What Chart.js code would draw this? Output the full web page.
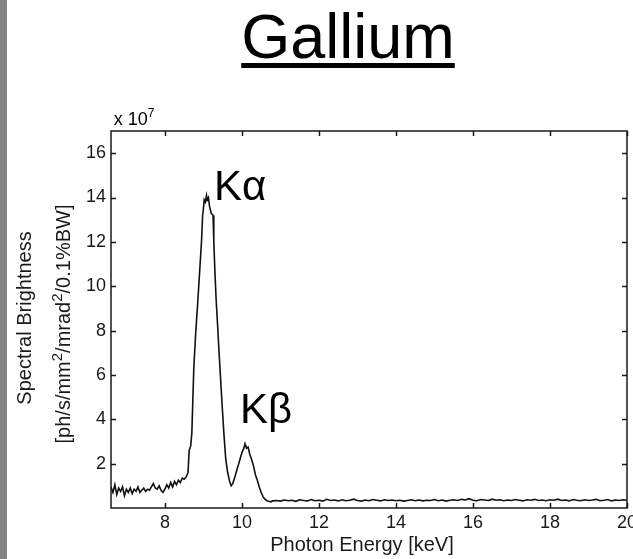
<!DOCTYPE html>
<html lang="en">
<head>
<meta charset="UTF-8">
<title>Gallium</title>
<style>
    body {
        margin: 0;
        padding: 0;
        background: #fff;
        overflow: hidden;
    }
    .edge {
        position: absolute;
        left: 0;
        top: 0;
        width: 7px;
        height: 559px;
        background: #858585;
    }
    .wrap {
        position: absolute;
        left: 0;
        top: 0;
        width: 680px;
        height: 559px;
    }
</style>
</head>
<body>
<div class="edge"></div>
<div class="wrap"><canvas id="spectrum" width="680" height="559"></canvas></div>

<script src="https://cdn.jsdelivr.net/npm/chart.js"></script>
<script>
    // photon energy [keV] and spectral brightness [x 10^7]
    const energyLow = [6.60, 6.65, 6.70, 6.75, 6.80, 6.85, 6.90, 6.95, 7.00, 7.05,
        7.10, 7.15, 7.20, 7.25, 7.30, 7.35, 7.40, 7.45, 7.50, 7.55,
        7.60, 7.65, 7.70, 7.75, 7.80, 7.85, 7.90, 7.95, 8.00, 8.05,
        8.10, 8.15, 8.20, 8.25, 8.30, 8.35, 8.40, 8.45, 8.50];
    const brightLow = [0.95, 0.70, 1.05, 0.60, 0.90, 0.75, 0.95, 0.55, 0.85, 0.70,
        0.90, 0.65, 0.85, 0.75, 0.95, 0.70, 0.80, 0.90, 0.75, 0.85,
        0.80, 0.95, 1.10, 0.90, 0.85, 1.00, 0.80, 0.70, 0.85, 1.05,
        0.90, 1.15, 0.95, 1.20, 1.05, 1.25, 1.15, 1.35, 1.30];

    const energyPeak = [8.55, 8.60, 8.63, 8.67, 8.70, 8.75, 8.80, 8.85, 8.90, 8.95,
        8.98, 9.00, 9.02, 9.05, 9.08, 9.10, 9.13, 9.16, 9.20, 9.25,
        9.27, 9.30, 9.33, 9.37, 9.40, 9.43, 9.48, 9.53, 9.58, 9.63,
        9.68, 9.72, 9.76, 9.80, 9.85, 9.90, 9.95, 10.00, 10.05, 10.08,
        10.12, 10.16, 10.20, 10.25, 10.30, 10.35, 10.40, 10.45, 10.50, 10.55,
        10.60, 10.65, 10.70, 10.75, 10.80];
    const brightPeak = [1.40, 1.60, 2.60, 2.80, 3.40, 6.30, 7.90, 9.20, 10.6, 12.0,
        13.2, 13.5, 13.9, 13.8, 14.1, 13.9, 14.0, 13.6, 13.3, 13.2,
        12.0, 10.6, 9.4, 8.2, 7.2, 6.3, 4.8, 3.4, 2.2, 1.6,
        1.2, 1.0, 1.1, 1.3, 1.6, 1.9, 2.2, 2.5, 2.7, 2.9,
        2.7, 2.75, 2.45, 2.2, 1.9, 1.5, 1.25, 0.95, 0.70, 0.50,
        0.40, 0.33, 0.30, 0.28, 0.32];

    const energyTail = [10.9, 11.0, 11.1, 11.2, 11.3, 11.4, 11.5, 11.6, 11.7, 11.8,
        11.9, 12.0, 12.1, 12.2, 12.3, 12.4, 12.5, 12.6, 12.7, 12.8,
        12.9, 13.0, 13.1, 13.2, 13.3, 13.4, 13.5, 13.6, 13.7, 13.8,
        13.9, 14.0, 14.1, 14.2, 14.3, 14.4, 14.5, 14.6, 14.7, 14.8,
        14.9, 15.0, 15.1, 15.2, 15.3, 15.4, 15.5, 15.6, 15.7, 15.8,
        15.9, 16.0, 16.1, 16.2, 16.3, 16.4, 16.5, 16.6, 16.7, 16.8,
        16.9, 17.0, 17.1, 17.2, 17.3, 17.4, 17.5, 17.6, 17.7, 17.8,
        17.9, 18.0, 18.1, 18.2, 18.3, 18.4, 18.5, 18.6, 18.7, 18.8,
        18.9, 19.0, 19.1, 19.2, 19.3, 19.4, 19.5, 19.6, 19.7, 19.8,
        19.9, 20.0];
    const brightTail = [0.34, 0.31, 0.36, 0.33, 0.35, 0.30, 0.37, 0.34, 0.32, 0.38,
        0.33, 0.35, 0.31, 0.39, 0.34, 0.36, 0.32, 0.37, 0.33, 0.35,
        0.40, 0.34, 0.31, 0.36, 0.33, 0.38, 0.35, 0.32, 0.37, 0.34,
        0.36, 0.33, 0.35, 0.31, 0.34, 0.37, 0.33, 0.36, 0.32, 0.35,
        0.34, 0.38, 0.33, 0.36, 0.31, 0.35, 0.37, 0.34, 0.39, 0.36,
        0.42, 0.35, 0.33, 0.38, 0.36, 0.34, 0.40, 0.35, 0.37, 0.33,
        0.36, 0.34, 0.38, 0.35, 0.32, 0.37, 0.35, 0.39, 0.34, 0.36,
        0.33, 0.37, 0.35, 0.40, 0.34, 0.36, 0.32, 0.38, 0.35, 0.33,
        0.37, 0.34, 0.36, 0.39, 0.33, 0.35, 0.38, 0.32, 0.36, 0.34,
        0.37, 0.35];

    const xTicks = [8, 10, 12, 14, 16, 18, 20];
    const yTicks = [2, 4, 6, 8, 10, 12, 14, 16];

    const energy = energyLow.concat(energyPeak, energyTail);
    const bright = brightLow.concat(brightPeak, brightTail);
    const points = energy.map((e, i) => ({ x: e, y: bright[i] }));

    const FONT = '"Liberation Sans", Arial, sans-serif';

    // draws a run of text pieces, some raised as superscripts
    function drawPieces(ctx, pieces, size, supSize, centerX, baseY) {
        let total = 0;
        pieces.forEach(p => {
            ctx.font = (p.sup ? supSize : size) + 'px ' + FONT;
            p.w = ctx.measureText(p.t).width;
            total += p.w;
        });
        let x = centerX - total / 2;
        ctx.textAlign = 'left';
        pieces.forEach(p => {
            ctx.font = (p.sup ? supSize : size) + 'px ' + FONT;
            ctx.fillText(p.t, x, p.sup ? baseY - size * 0.42 : baseY);
            x += p.w;
        });
    }

    // box, inward ticks and all the labels
    const frame = {
        id: 'frame',
        afterDraw(chart) {
            const { ctx, chartArea: a, scales: { x, y } } = chart;
            ctx.save();
            ctx.strokeStyle = '#1a1a1a';
            ctx.lineWidth = 1.5;
            ctx.strokeRect(a.left, a.top, a.right - a.left, a.bottom - a.top);
            ctx.beginPath();
            xTicks.forEach(v => {
                const px = Math.round(x.getPixelForValue(v)) + 0.5;
                ctx.moveTo(px, a.bottom); ctx.lineTo(px, a.bottom - 5);
                ctx.moveTo(px, a.top); ctx.lineTo(px, a.top + 5);
            });
            yTicks.forEach(v => {
                const py = Math.round(y.getPixelForValue(v)) + 0.5;
                ctx.moveTo(a.left, py); ctx.lineTo(a.left + 5, py);
                ctx.moveTo(a.right, py); ctx.lineTo(a.right - 5, py);
            });
            ctx.stroke();

            ctx.fillStyle = '#000';
            ctx.textBaseline = 'alphabetic';

            // title
            ctx.font = '63px ' + FONT;
            ctx.textAlign = 'center';
            ctx.fillText('Gallium', 348, 58);
            const tw = ctx.measureText('Gallium').width;
            ctx.fillRect(348 - tw / 2, 63, tw, 5);

            // peak labels
            ctx.font = '42px ' + FONT;
            ctx.textAlign = 'left';
            ctx.fillText('Kα', 214, 200);
            ctx.fillText('Kβ', 240, 423);

            // axis multiplier
            drawPieces(ctx, [{ t: 'x 10' }, { t: '7', sup: true }], 18, 12, 134, 125);

            // x axis title
            ctx.font = '20px ' + FONT;
            ctx.textAlign = 'center';
            ctx.fillStyle = '#1a1a1a';
            ctx.fillText('Photon Energy [keV]', 362, 551);

            // y axis title, two rotated lines
            ctx.save();
            ctx.translate(31, 318);
            ctx.rotate(-Math.PI / 2);
            ctx.font = '20px ' + FONT;
            ctx.textAlign = 'center';
            ctx.fillText('Spectral Brightness', 0, 0);
            ctx.restore();

            ctx.save();
            ctx.translate(70, 324);
            ctx.rotate(-Math.PI / 2);
            drawPieces(ctx, [
                { t: '[ph/s/mm' }, { t: '2', sup: true },
                { t: '/mrad' }, { t: '2', sup: true },
                { t: '/0.1%BW]' }
            ], 20, 15, 0, 0);
            ctx.restore();

            ctx.restore();
        }
    };

    const ctx = document.getElementById('spectrum').getContext('2d');
    new Chart(ctx, {
        type: 'line',
        data: {
            datasets: [{
                data: points,
                borderColor: '#111',
                borderWidth: 1.6,
                pointRadius: 0,
                tension: 0,
                fill: false
            }]
        },
        options: {
            responsive: false,
            animation: false,
            layout: { padding: { left: 0, top: 131, right: 53, bottom: 0 } },
            plugins: {
                legend: { display: false },
                tooltip: { enabled: false }
            },
            scales: {
                x: {
                    type: 'linear',
                    min: 6.6,
                    max: 20,
                    afterBuildTicks: s => { s.ticks = xTicks.map(v => ({ value: v })); },
                    afterFit: s => { s.height = 51; s.paddingLeft = 0; s.paddingRight = 0; },
                    grid: { display: false, drawTicks: false },
                    border: { display: false },
                    ticks: {
                        color: '#1a1a1a',
                        font: { family: FONT, size: 18 },
                        padding: 4,
                        maxRotation: 0,
                        autoSkip: false
                    }
                },
                y: {
                    type: 'linear',
                    min: 0,
                    max: 17,
                    afterBuildTicks: s => { s.ticks = yTicks.map(v => ({ value: v })); },
                    afterFit: s => { s.width = 111; s.paddingTop = 0; s.paddingBottom = 0; },
                    grid: { display: false, drawTicks: false },
                    border: { display: false },
                    ticks: {
                        color: '#1a1a1a',
                        font: { family: FONT, size: 18 },
                        padding: 5,
                        autoSkip: false
                    }
                }
            }
        },
        plugins: [frame]
    });
</script>
</body>
</html>
